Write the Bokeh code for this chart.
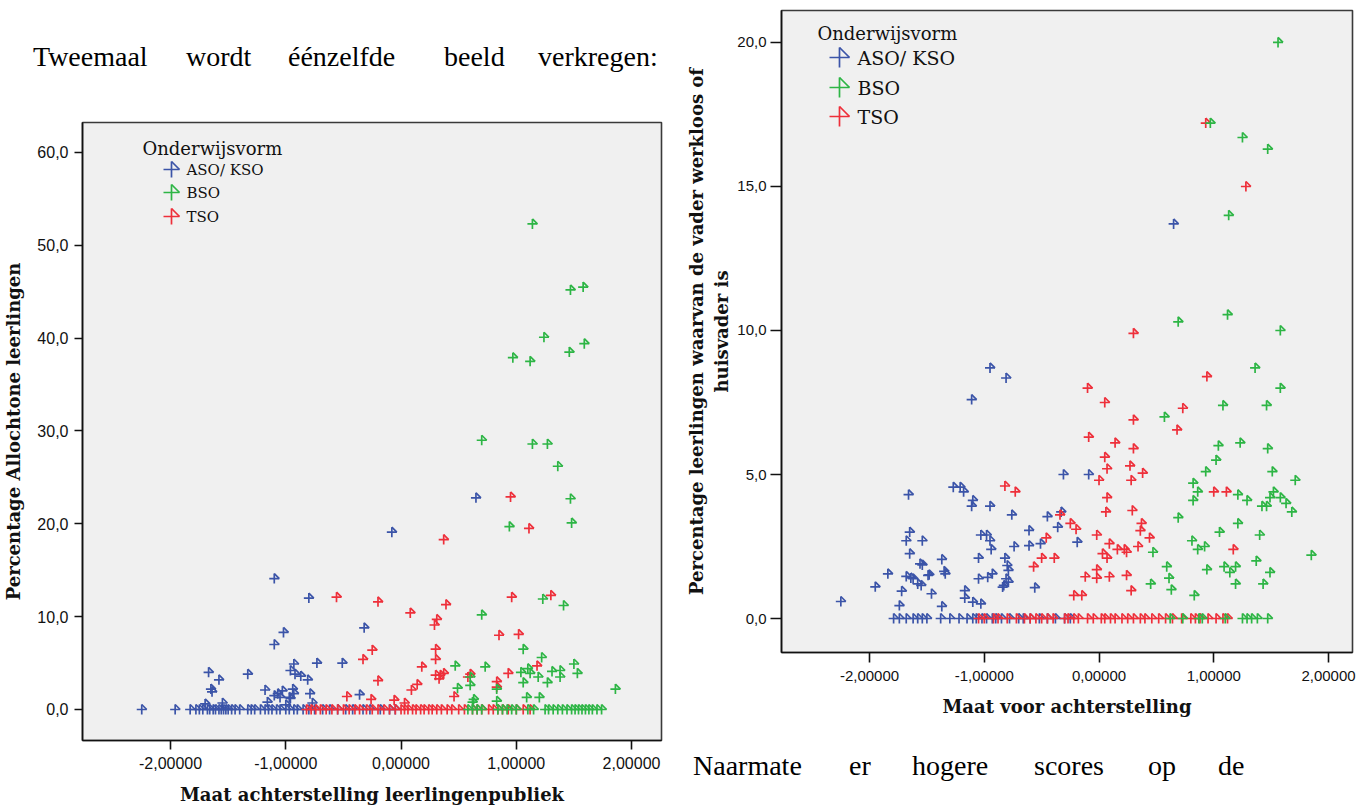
from bokeh.plotting import figure
from bokeh.models import Range1d, FixedTicker, Label, ColumnDataSource, Div
from bokeh.layouts import row, column
from bokeh.transform import dodge
from bokeh.embed import file_html
from bokeh.resources import INLINE

# ---------------- data ----------------
groups = ["ASO/ KSO", "BSO", "TSO"]
legend_title = "Onderwijsvorm"

# Left chart: Maat achterstelling leerlingenpubliek vs Percentage Allochtone leerlingen
L_aso_x = [-1.10, -0.08, 0.65, -0.80, -1.02, -0.32, -1.10, -0.73, -0.51, -1.67, -1.33, -1.58, -1.65, -1.64,
           -0.93, -0.96, -0.92, -0.87, -0.81, -1.18, -0.94, -1.03, -1.07, -1.05, -0.79, -0.36, -1.16, -0.96,
           -0.77, -1.70, -1.55, -1.10, -0.93, -0.97, -1.00,
           -2.25, -1.96, -1.83, -1.78, -1.75, -1.72, -1.68, -1.66, -1.63, -1.61, -1.58, -1.56, -1.54, -1.52,
           -1.50, -1.47, -1.44, -1.40, -1.33, -1.30, -1.27, -1.22, -1.18, -1.15, -1.12, -1.08, -1.05, -1.00,
           -0.97, -0.93, -0.90, -0.85, -0.80, -0.75, -0.68, -0.62, -0.55, -0.48, -0.42, -0.33, -0.27, -0.18,
           -0.10, -0.05]
L_aso_y = [14.1, 19.1, 22.8, 12.0, 8.3, 8.8, 7.0, 5.0, 5.0, 4.0, 3.8, 3.2, 2.2, 1.9,
           4.9, 4.2, 3.8, 3.6, 3.2, 2.1, 2.2, 2.0, 1.7, 1.3, 1.7, 1.6, 0.8, 1.2,
           0.7, 0.6, 0.7, 1.5, 1.7, 1.3, 0.5,
           0.0, 0.0, 0.0, 0.0, 0.0, 0.0, 0.0, 0.0, 0.0, 0.0, 0.0, 0.0, 0.0, 0.0,
           0.0, 0.0, 0.0, 0.0, 0.0, 0.0, 0.0, 0.0, 0.0, 0.0, 0.0, 0.0, 0.0, 0.0,
           0.0, 0.0, 0.0, 0.0, 0.0, 0.0, 0.0, 0.0, 0.0, 0.0, 0.0, 0.0, 0.0, 0.0,
           0.0, 0.0]

L_bso_x = [1.14, 1.47, 1.58, 1.24, 1.59, 1.46, 0.97, 1.12, 0.70, 1.14, 1.27, 1.36, 1.47, 0.94, 1.48,
           1.23, 1.41, 0.70, 1.06, 1.22, 0.47, 0.73, 1.50, 1.53, 1.04, 1.10, 1.12, 1.31, 1.38, 1.38,
           1.19, 1.27, 1.06, 0.60, 0.60, 0.49, 0.83, 1.86, 1.09, 1.20, 0.63, 0.62, 0.83,
           0.58, 0.62, 0.66, 0.70, 0.84, 0.88, 0.92, 0.96, 1.00, 1.10, 1.15, 1.25, 1.28, 1.32, 1.36,
           1.40, 1.44, 1.48, 1.51, 1.54, 1.57, 1.60, 1.63, 1.66, 1.70, 1.74]
L_bso_y = [52.3, 45.2, 45.5, 40.1, 39.4, 38.5, 37.9, 37.5, 29.0, 28.6, 28.6, 26.2, 22.7, 19.7, 20.1,
           11.9, 11.2, 10.2, 6.5, 5.6, 4.7, 4.6, 4.9, 3.9, 4.0, 4.4, 3.9, 4.1, 4.2, 3.5,
           3.5, 2.9, 2.9, 3.5, 2.6, 2.3, 2.2, 2.2, 1.3, 1.3, 1.1, 0.8, 0.9,
           0.0, 0.0, 0.0, 0.0, 0.0, 0.0, 0.0, 0.0, 0.0, 0.0, 0.0, 0.0, 0.0, 0.0, 0.0,
           0.0, 0.0, 0.0, 0.0, 0.0, 0.0, 0.0, 0.0, 0.0, 0.0, 0.0]

L_tso_x = [0.95, 1.11, 0.37, 0.96, 1.30, -0.56, -0.20, 0.08, 0.39, 0.31, 0.29, 0.85, 1.02, -0.25, -0.33,
           0.30, 0.30, 0.18, 1.18, 0.30, 0.34, 0.37, 0.33, 0.60, 0.58, -0.20, 0.93, 0.83, 0.83, 0.14,
           0.09, 0.46, -0.47, -0.26, -0.06, 0.03,
           -0.82, -0.78, -0.74, -0.70, -0.65, -0.60, -0.55, -0.50, -0.45, -0.40, -0.36, -0.30, -0.25,
           -0.20, -0.15, -0.10, -0.05, 0.00, 0.03, 0.06, 0.10, 0.13, 0.17, 0.20, 0.24, 0.27, 0.31, 0.35,
           0.40, 0.44, 0.50, 0.55, 0.62, 0.66, 0.70, 0.76, 0.80, 0.84, 0.88, 0.93, 1.00, 1.06, 1.12]
L_tso_y = [22.9, 19.5, 18.3, 12.1, 12.3, 12.1, 11.6, 10.4, 11.3, 9.7, 9.1, 8.0, 8.1, 6.4, 5.4,
           6.5, 5.4, 4.6, 4.7, 3.7, 3.7, 3.9, 3.3, 3.8, 3.5, 3.1, 3.9, 3.0, 2.4, 2.7,
           2.1, 1.4, 1.4, 1.1, 1.0, 0.7,
           0.0, 0.0, 0.0, 0.0, 0.0, 0.0, 0.0, 0.0, 0.0, 0.0, 0.0, 0.0, 0.0,
           0.0, 0.0, 0.0, 0.0, 0.0, 0.0, 0.0, 0.0, 0.0, 0.0, 0.0, 0.0, 0.0, 0.0, 0.0,
           0.0, 0.0, 0.0, 0.0, 0.0, 0.0, 0.0, 0.0, 0.0, 0.0, 0.0, 0.0, 0.0, 0.0, 0.0]

# Right chart: Maat voor achterstelling vs Percentage leerlingen waarvan de vader werkloos of huisvader is
R_aso_x = [0.65, -0.95, -0.81, -1.11, -1.66, -1.27, -1.21, -1.18, -1.10, -1.11, -0.95, -0.76, -0.61, -0.61,
           -1.65, -1.68, -1.54, -1.65, -1.03, -0.98, -0.95, -0.94, -0.74, -1.37, -1.05, -0.82, -1.56, -0.80,
           -0.79, -1.84, -1.35, -1.34, -1.68, -1.64, -1.62, -1.58, -1.55, -1.49, -1.05, -0.97, -0.93, -0.81,
           -0.83, -0.79, -1.95, -2.25, -1.72, -1.46, -1.17, -1.17, -1.10, -1.03, -1.74, -1.37, -0.31, -0.09,
           -0.33, -0.45, -0.36, -0.51, -0.19, -0.84, -0.56, -1.54, -1.48,
           -1.79, -1.74, -1.68, -1.62, -1.58, -1.54, -1.50, -1.38, -1.30, -1.22, -1.15, -1.10, -1.07, -1.02,
           -0.98, -0.93, -0.90, -0.85, -0.78, -0.70, -0.66, -0.60, -0.52, -0.45, -0.38, -0.30, -0.25]
R_aso_y = [13.7, 8.7, 8.35, 7.6, 4.3, 4.56, 4.56, 4.4, 4.1, 3.9, 3.9, 3.6, 3.06, 2.53,
           3.0, 2.7, 2.7, 2.25, 2.9, 2.9, 2.7, 2.4, 2.5, 2.05, 2.1, 2.1, 1.9, 1.84,
           1.67, 1.55, 1.64, 1.55, 1.46, 1.41, 1.38, 1.2, 1.15, 1.5, 1.38, 1.43, 1.55, 1.38,
           1.15, 1.26, 1.1, 0.59, 0.95, 0.86, 0.97, 0.71, 0.57, 0.51, 0.45, 0.42, 5.0, 5.0,
           3.7, 3.54, 3.17, 2.6, 2.65, 1.09, 1.07, 1.86, 1.52,
           0.0, 0.0, 0.0, 0.0, 0.0, 0.0, 0.0, 0.0, 0.0, 0.0, 0.0, 0.0, 0.0, 0.0,
           0.0, 0.0, 0.0, 0.0, 0.0, 0.0, 0.0, 0.0, 0.0, 0.0, 0.0, 0.0, 0.0]

R_bso_x = [1.56, 0.97, 1.25, 1.47, 1.13, 0.69, 1.12, 1.58, 1.36, 1.58, 1.08, 1.46, 0.57, 1.04, 1.23,
           1.47, 1.02, 0.93, 1.51, 1.71, 0.82, 0.86, 0.82, 1.21, 1.29, 1.52, 1.49, 1.58, 1.63, 1.42,
           1.46, 1.68, 0.69, 1.21, 1.05, 1.40, 0.81, 0.86, 0.92, 0.47, 1.85, 0.59, 1.09, 1.14, 1.19,
           0.94, 1.37, 1.49, 0.61, 0.45, 1.19, 1.43, 0.63, 0.83,
           0.62, 0.73, 0.87, 0.90, 1.10, 1.25, 1.29, 1.33, 1.38, 1.47]
R_bso_y = [20.0, 17.2, 16.7, 16.3, 14.0, 10.3, 10.55, 10.0, 8.7, 8.0, 7.4, 7.4, 7.0, 6.0, 6.1,
           5.9, 5.5, 5.1, 5.1, 4.8, 4.7, 4.4, 4.1, 4.3, 4.1, 4.4, 4.2, 4.2, 4.0, 3.9,
           3.9, 3.7, 3.5, 3.3, 3.0, 2.9, 2.7, 2.4, 2.5, 2.3, 2.2, 1.8, 1.8, 1.6, 1.8,
           1.7, 2.0, 1.6, 1.4, 1.2, 1.2, 1.2, 1.0, 0.8,
           0.0, 0.0, 0.0, 0.0, 0.0, 0.0, 0.0, 0.0, 0.0, 0.0]

R_tso_x = [0.93, 1.28, 0.30, 0.94, -0.10, 0.05, 0.73, 0.30, 0.68, -0.09, 0.14, 0.30, 0.05, 0.07, 0.27,
           0.38, 0.00, 0.28, -0.82, -0.73, 1.00, 1.11, 0.07, 0.06, 0.29, -0.34, 0.37, 0.36, -0.25, -0.20,
           0.44, -0.02, -0.46, 0.09, 0.03, 0.07, 0.16, 0.22, 0.24, 0.34, 1.17, -0.50, -0.39, -0.57, -0.02,
           -0.12, -0.02, 0.09, 0.24, 0.28, -0.22, -0.15,
           -1.05, -1.00, -0.92, -0.88, -0.80, -0.72, -0.65, -0.60, -0.55, -0.50, -0.45, -0.40, -0.30,
           -0.27, -0.22, -0.18, -0.10, -0.05, 0.02, 0.05, 0.10, 0.14, 0.20, 0.25, 0.30, 0.36, 0.40, 0.46,
           0.52, 0.58, 0.64, 0.72, 0.80, 0.84, 0.88, 0.95, 1.02, 1.08, 1.12]
R_tso_y = [17.2, 15.0, 9.9, 8.4, 8.0, 7.5, 7.3, 6.9, 6.55, 6.3, 6.1, 5.9, 5.6, 5.2, 5.3,
           5.05, 4.8, 4.8, 4.6, 4.4, 4.4, 4.4, 4.2, 3.7, 3.75, 3.6, 3.3, 3.05, 3.3, 3.1,
           2.8, 2.9, 2.8, 2.6, 2.25, 2.1, 2.4, 2.4, 2.3, 2.5, 2.4, 2.1, 2.1, 1.8, 1.7,
           1.45, 1.4, 1.45, 1.5, 0.97, 0.8, 0.8,
           0.0, 0.0, 0.0, 0.0, 0.0, 0.0, 0.0, 0.0, 0.0, 0.0, 0.0, 0.0, 0.0,
           0.0, 0.0, 0.0, 0.0, 0.0, 0.0, 0.0, 0.0, 0.0, 0.0, 0.0, 0.0, 0.0, 0.0, 0.0,
           0.0, 0.0, 0.0, 0.0, 0.0, 0.0, 0.0, 0.0, 0.0, 0.0, 0.0]

x_ticks = [-2, -1, 0, 1, 2]
x_tick_labels = ["-2,00000", "-1,00000", "0,00000", "1,00000", "2,00000"]
L_y_ticks = [0, 10, 20, 30, 40, 50, 60]
L_y_tick_labels = ["0,0", "10,0", "20,0", "30,0", "40,0", "50,0", "60,0"]
R_y_ticks = [0, 5, 10, 15, 20]
R_y_tick_labels = ["0,0", "5,0", "10,0", "15,0", "20,0"]

L_xlabel = "Maat achterstelling leerlingenpubliek"
L_ylabel = "Percentage Allochtone leerlingen"
R_xlabel = "Maat voor achterstelling"
R_ylabel = "Percentage leerlingen waarvan de vader werkloos of\nhuisvader is"

top_words = ["Tweemaal", "wordt", "éénzelfde", "beeld", "verkregen:"]
bottom_words = ["Naarmate", "er", "hogere", "scores", "op", "de"]

COLORS = {"ASO/ KSO": "#3B54A8", "BSO": "#2DB545", "TSO": "#EE2F3A"}

SERIF = "Liberation Serif"
LSERIF = "DejaVu Serif"
SANS = "Liberation Sans"


def make_fig(bl, bt, fw, fh, br, bb, xr, yr, yticks, ylabels, xlabel, ylabel,
             ytick_out, xtick_out, y_std, x_std, y_lstd, x_lstd, tick_size="16px"):
    p = figure(x_range=Range1d(*xr), y_range=Range1d(*yr), frame_width=fw, frame_height=fh,
               min_border_left=bl, min_border_top=bt, min_border_right=br, min_border_bottom=bb,
               output_backend="svg", toolbar_location=None, frame_align=False,
               background_fill_color="#F0F0F0", border_fill_color="white",
               outline_line_color="#3A3A3A", outline_line_width=1.6)
    p.grid.visible = False
    p.xaxis.ticker = FixedTicker(ticks=x_ticks)
    p.xaxis.major_label_overrides = {t: s for t, s in zip(x_ticks, x_tick_labels)}
    p.yaxis.ticker = FixedTicker(ticks=yticks)
    p.yaxis.major_label_overrides = {t: s for t, s in zip(yticks, ylabels)}
    for ax in (p.xaxis[0], p.yaxis[0]):
        ax.axis_line_color = "#111111"
        ax.axis_line_width = 1.6
        ax.major_tick_line_color = "#111111"
        ax.major_tick_line_width = 1.6
        ax.major_tick_in = 0
        ax.minor_tick_line_color = None
        ax.major_label_text_font = SANS
        ax.major_label_text_font_size = tick_size
        ax.major_label_text_color = "#111111"
        ax.axis_label_text_font = LSERIF
        ax.axis_label_text_font_style = "bold"
        ax.axis_label_text_font_size = "18px"
        ax.axis_label_text_color = "#111111"
    p.yaxis.major_tick_out = ytick_out
    p.xaxis.major_tick_out = xtick_out
    p.yaxis.major_label_standoff = y_std
    p.xaxis.major_label_standoff = x_std
    p.yaxis.axis_label_standoff = y_lstd
    p.xaxis.axis_label_standoff = x_lstd
    p.xaxis.axis_label = xlabel
    p.yaxis.axis_label = ylabel
    return p


def add_series(p, xs, ys, color, r, xpp, ypp, lw=1.7):
    src = ColumnDataSource(dict(x=xs, y=ys))
    p.scatter("x", "y", source=src, marker="cross", size=2 * r, line_color=color, line_width=lw)
    p.segment(x0="x", y0=dodge("y", r * ypp), x1=dodge("x", r * xpp), y1="y", source=src,
              line_color=color, line_width=lw)


def build(p, geom, series, legend_geom):
    (fl, fb, xr, yr, fw, fh) = geom
    xpp = (xr[1] - xr[0]) / fw
    ypp = (yr[1] - yr[0]) / fh
    for name in ["ASO/ KSO", "TSO", "BSO"]:
        xs, ys = series[name]
        add_series(p, xs, ys, COLORS[name], 5, xpp, ypp)
    # legend (drawn manually, SPSS style)
    tx, ty, tsize, mx, txx, ys_, isize, mr = legend_geom
    p.add_layout(Label(x=tx - fl, y=fb - ty, x_units="screen", y_units="screen", text=legend_title,
                       text_font=LSERIF, text_font_size=tsize, text_color="#111111",
                       text_baseline="middle", text_align="left"))
    for name, yy in zip(groups, ys_):
        lx = xr[0] + (mx - fl) * xpp
        ly = yr[0] + (fb - yy) * ypp
        add_series(p, [lx], [ly], COLORS[name], mr, xpp, ypp, lw=1.7)
        p.add_layout(Label(x=txx - fl, y=fb - yy, x_units="screen", y_units="screen", text=name,
                           text_font=LSERIF, text_font_size=isize, text_color="#111111",
                           text_baseline="middle", text_align="left"))


def text_div(words, xs, top, width, height):
    spans = "".join(
        f'<span style="position:absolute;left:{x}px;top:{top}px;white-space:nowrap;">{w}</span>'
        for w, x in zip(words, xs))
    html = (f'<div style="position:relative;width:{width}px;height:{height}px;'
            f'font-family:\'Liberation Serif\';font-size:28px;line-height:28px;color:#000;">'
            f'{spans}</div>')
    return Div(text=html, width=width, height=height, margin=0)


# ---------------- left figure (page y 120..807) ----------------
L_xr = (-2.764, 2.260)
L_yr = (-3.34, 63.23)
pl = make_fig(82, 2, 579, 618, 19, 67, L_xr, L_yr, L_y_ticks, L_y_tick_labels, L_xlabel, L_ylabel,
              ytick_out=8, xtick_out=9, y_std=6, x_std=7, y_lstd=10, x_lstd=12)
build(pl, (82, 620, L_xr, L_yr, 579, 618),
      {"ASO/ KSO": (L_aso_x, L_aso_y), "BSO": (L_bso_x, L_bso_y), "TSO": (L_tso_x, L_tso_y)},
      (142, 28, "18px", 171, 186, [49, 72, 96], "15px", 8))
top_div = text_div(top_words, [33, 186, 288, 444, 538], 43, 680, 120)

# ---------------- right figure (page y 0..724) ----------------
R_xr = (-2.767, 2.209)
R_yr = (-1.18, 21.11)
pr = make_fig(101, 10, 571, 642, 18, 72, R_xr, R_yr, R_y_ticks, R_y_tick_labels, R_xlabel, R_ylabel,
              ytick_out=11, xtick_out=10, y_std=4, x_std=8, y_lstd=2, x_lstd=12, tick_size="15px")
build(pr, (101, 652, R_xr, R_yr, 571, 642),
      {"ASO/ KSO": (R_aso_x, R_aso_y), "BSO": (R_bso_x, R_bso_y), "TSO": (R_tso_x, R_tso_y)},
      (137, 33, "18px", 159, 177, [57, 87, 116], "19px", 10))
bottom_div = text_div(bottom_words, [13, 169, 232, 354, 468, 538], 28, 690, 83)

layout = row(column(top_div, pl, spacing=0), column(pr, bottom_div, spacing=0), spacing=0)
open("out.html", "w").write(file_html(layout, INLINE))
